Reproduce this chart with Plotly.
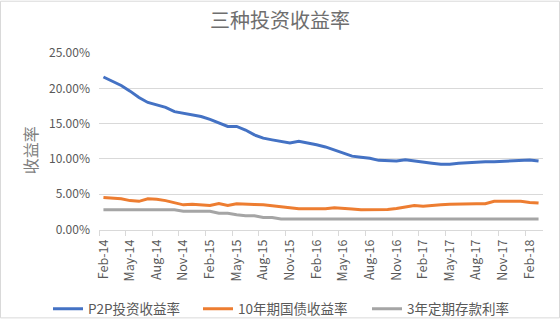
import pandas as pd
import plotly.graph_objects as go

# ---- data (percent values) ----
months = pd.date_range("2014-02-01", periods=50, freq="MS").strftime("%b-%y").tolist()

p2p_rate = [21.6, 21.0, 20.4, 19.6, 18.7, 18.0, 17.6, 17.3, 16.7, 16.45,
            16.3, 16.0, 15.6, 15.1, 14.6, 14.6, 14.1, 13.4, 12.95, 12.7,
            12.45, 12.25, 12.5, 12.3, 12.0, 11.7, 11.3, 10.9, 10.4, 10.25,
            10.1, 9.8, 9.75, 9.7, 9.9, 9.7, 9.5, 9.4, 9.25, 9.25,
            9.4, 9.5, 9.6, 9.6, 9.6, 9.65, 9.7, 9.75, 9.85, 9.7]

bond_rate = [4.55, 4.5, 4.35, 4.1, 4.0, 4.35, 4.3, 4.1, 3.85, 3.5,
             3.6, 3.5, 3.4, 3.7, 3.4, 3.65, 3.65, 3.55, 3.5, 3.35,
             3.2, 3.15, 2.95, 2.95, 2.95, 2.95, 3.1, 3.05, 2.9, 2.8,
             2.8, 2.8, 2.85, 3.0, 3.15, 3.4, 3.3, 3.35, 3.5, 3.6,
             3.65, 3.65, 3.65, 3.65, 4.0, 4.0, 4.0, 4.0, 3.85, 3.75]

deposit_rate = [2.8, 2.8, 2.8, 2.8, 2.8, 2.8, 2.8, 2.8, 2.8, 2.6,
                2.6, 2.6, 2.6, 2.3, 2.3, 2.1, 1.95, 1.95, 1.7, 1.7,
                1.5, 1.5, 1.5, 1.5, 1.5, 1.5, 1.5, 1.5, 1.5, 1.5,
                1.5, 1.5, 1.5, 1.5, 1.5, 1.5, 1.5, 1.5, 1.5, 1.5,
                1.5, 1.5, 1.5, 1.5, 1.5, 1.5, 1.5, 1.5, 1.5, 1.5]

series_names = ["P2P投资收益率", "10年期国债收益率", "3年定期存款利率"]
series_colors = ["#4472C4", "#ED7D31", "#A5A5A5"]
tick_labels = months[::3]

FONT = "Noto Sans CJK SC, Liberation Sans, sans-serif"
GREY = "#595959"
LIGHT = "#7F7F7F"

idx = list(range(len(months)))
fig = go.Figure()
for k, (name, vals, col) in enumerate(zip(series_names,
                                          [p2p_rate, bond_rate, deposit_rate],
                                          series_colors)):
    fig.add_trace(go.Scatter(
        x=idx, y=[v / 100 for v in vals], mode="lines", name=name,
        line=dict(color=col, width=3),
        legend="legend" if k == 0 else f"legend{k+1}",
    ))

W, H = 560, 322
ML, MR, MT, MB = 99, 17, 53, 90
pw, ph = W - ML - MR, H - MT - MB

legend_common = dict(orientation="h", xref="container", yref="container",
                     yanchor="middle", y=1 - 309 / H, xanchor="left",
                     font=dict(family=FONT, size=13.5, color=GREY),
                     bgcolor="rgba(0,0,0,0)")

fig.update_layout(
    width=W, height=H,
    margin=dict(l=ML, r=MR, t=MT, b=MB),
    paper_bgcolor="white", plot_bgcolor="white",
    font=dict(family=FONT, color=GREY),
    title=dict(text="三种投资收益率", x=0.5, xref="container", xanchor="center",
               y=1 - 21 / H, yref="container", yanchor="middle",
               font=dict(family=FONT, size=20, color="#6E6E6E")),
    legend=dict(x=48 / W, **legend_common),
    legend2=dict(x=198 / W, **legend_common),
    legend3=dict(x=367 / W, **legend_common),
    showlegend=True,
    xaxis=dict(
        range=[-0.5, len(months) - 0.5],
        tickmode="array", tickvals=idx[::3], ticktext=tick_labels,
        tickangle=-90, ticks="", ticklabelstandoff=4,
        tickfont=dict(family=FONT, size=12.5, color=GREY),
        showgrid=False, zeroline=False,
        showline=True, linecolor="#D9D9D9", linewidth=1,
        minor=dict(tickmode="array",
                   tickvals=[i - 0.5 for i in idx[::3]],
                   ticks="outside", ticklen=5, tickcolor="#D9D9D9",
                   showgrid=False),
    ),
    yaxis=dict(
        range=[0, 0.25], dtick=0.05, tickformat=".2%",
        tickfont=dict(family=FONT, size=12, color=GREY),
        showgrid=True, gridcolor="#D9D9D9", gridwidth=1,
        zeroline=False, ticks="", ticklabelstandoff=8,
    ),
    annotations=[dict(text="收益率", textangle=-90, xref="paper", yref="paper",
                      x=(30 - ML) / pw, y=0.5 - 9 / ph, xanchor="center", yanchor="middle",
                      showarrow=False, font=dict(family=FONT, size=16, color=LIGHT))],
    shapes=[dict(type="rect", xref="paper", yref="paper",
                 x0=(0.5 - ML) / pw, x1=(W - 0.5 - ML) / pw,
                 y0=(MT + ph - (H - 0.5)) / ph, y1=(MT + ph - 0.5) / ph,
                 line=dict(color="#D9D9D9", width=1), layer="below")],
)

fig.write_html("out.html")
